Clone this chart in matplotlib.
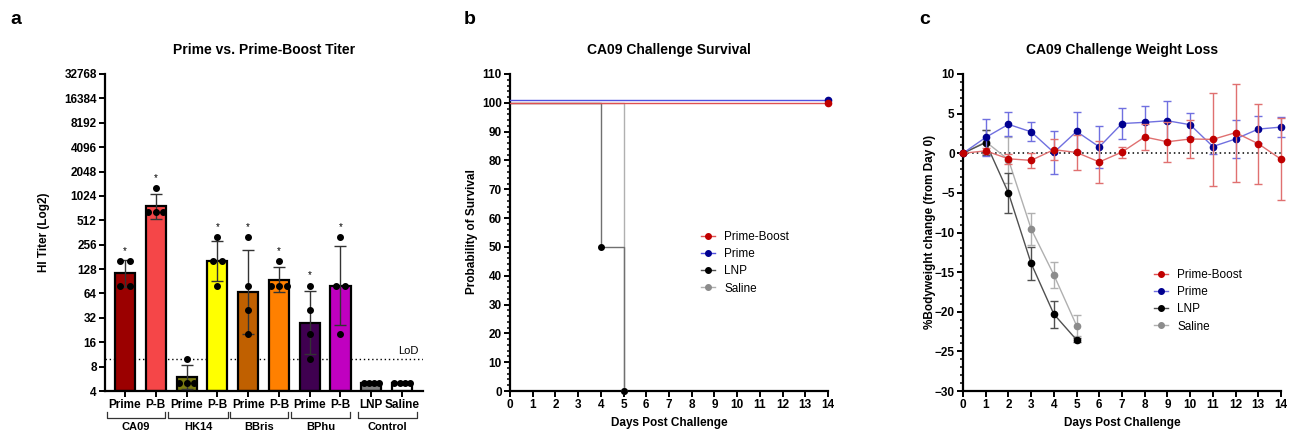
import numpy as np
import matplotlib
matplotlib.use('Agg')
import matplotlib.pyplot as plt
import matplotlib.ticker as mticker
from matplotlib.transforms import blended_transform_factory

plt.rcParams['font.family'] = ['Liberation Sans', 'DejaVu Sans']
plt.rcParams['font.size'] = 8.5

# ---------- panel a data ----------
bar_labels = ['Prime', 'P-B', 'Prime', 'P-B', 'Prime', 'P-B', 'Prime', 'P-B', 'LNP', 'Saline']
group_names = ['CA09', 'HK14', 'BBris', 'BPhu', 'Control']
titer_points = [[160, 160, 80, 80], [1280, 640, 640, 640], [10, 5, 5, 5], [320, 160, 160, 80],
                [320, 80, 40, 20], [160, 80, 80, 80], [80, 40, 20, 10], [320, 80, 80, 20],
                [5, 5, 5, 5], [5, 5, 5, 5]]
titer_gmean = [113, 761, 5.9, 160, 67, 95, 28, 80, 5, 5]
titer_lo = [76, 538, 4.2, 91, 20.5, 67, 11.5, 25.8, 5, 5]
titer_hi = [168, 1076, 8.4, 282, 220, 134, 69, 248, 5, 5]
signif = [True, True, False, True, True, True, True, True, False, False]
lod = 10

# ---------- panel b data ----------
pb_surv_days = [0, 14]
pb_surv = [100, 100]
pr_surv_days = [0, 14]
pr_surv = [100, 100]
lnp_surv_days = [0, 4, 5]
lnp_surv = [100, 50, 0]
sal_surv_days = [0, 5]
sal_surv = [100, 0]

# ---------- panel c data ----------
days = list(range(15))
pb_wt = [0, 0.3, -0.7, -0.9, 0.45, 0.1, -1.1, 0.15, 2.05, 1.45, 1.8, 1.75, 2.6, 1.2, -0.75]
pb_sd = [0, 0.3, 0.65, 0.95, 1.35, 2.25, 2.6, 0.7, 1.6, 2.5, 2.4, 5.9, 6.2, 5.05, 5.15]
pr_wt = [0, 2.0, 3.65, 2.7, 0.1, 2.75, 0.8, 3.75, 3.9, 4.1, 3.6, 0.85, 1.8, 3.05, 3.3]
pr_sd = [0, 2.3, 1.5, 1.2, 2.7, 2.5, 2.6, 2.0, 2.0, 2.5, 1.5, 0.9, 2.35, 1.7, 1.3]
lnp_days = [0, 1, 2, 3, 4, 5]
lnp_wt = [0, 1.35, -5.0, -13.9, -20.3, -23.55]
lnp_sd = [0, 1.6, 2.55, 2.1, 1.7, 0.3]
sal_days = [0, 1, 2, 3, 4, 5]
sal_wt = [0, 1.45, -0.8, -9.55, -15.35, -21.75]
sal_sd = [0, 1.5, 2.9, 2.0, 1.6, 1.3]

bar_colors = ['#9b0000', '#f54648', '#7a7a10', '#ffff00', '#c06000',
              '#ff8000', '#3f0050', '#c000c0', '#808080', '#ffffff']

W, H = 1296, 433
fig = plt.figure(figsize=(W / 100, H / 100), dpi=100)


def box(left, right, top, bottom):
    return [left / W, 1 - bottom / H, (right - left) / W, (bottom - top) / H]


def style_axes(ax):
    for s in ['top', 'right']:
        ax.spines[s].set_visible(False)
    for s in ['left', 'bottom']:
        ax.spines[s].set_linewidth(1.6)
    ax.tick_params(which='major', length=4, width=1.4, labelsize=8.5, pad=2)
    ax.tick_params(which='minor', length=2.5, width=1.1)
    for lab in ax.get_xticklabels() + ax.get_yticklabels():
        lab.set_fontweight('bold')


TITLE_SIZE = 10

# ================= panel a =================
axa = fig.add_axes(box(105, 423, 74, 391))
x = np.arange(len(bar_labels))
gm = np.array(titer_gmean)
axa.bar(x, gm - 4, bottom=4, width=0.65, color=bar_colors, edgecolor='black',
        linewidth=1.6, zorder=2)
err = [gm - np.array(titer_lo), np.array(titer_hi) - gm]
axa.errorbar(x[:8], gm[:8], yerr=[err[0][:8], err[1][:8]], fmt='none', ecolor='#333333',
             elinewidth=1, capsize=4, capthick=1, zorder=3)
for i, pts in enumerate(titer_points):
    vals, counts = np.unique(pts, return_counts=True)
    for v, n in zip(vals, counts):
        sp = min(0.3, 0.5 / max(n - 1, 1))
        offs = (np.arange(n) - (n - 1) / 2) * sp
        axa.plot(x[i] + offs, [v] * n, 'o', color='black', ms=4, zorder=4, clip_on=False)
    if signif[i]:
        axa.text(x[i], max(pts) * 2 ** 0.42, '*', ha='center', va='center', fontsize=7)
axa.axhline(lod, color='black', ls=(0, (1, 2)), lw=1, zorder=1)
axa.text(9.55, lod * 1.08, 'LoD', ha='right', va='bottom', fontsize=8)
axa.set_yscale('log', base=2)
axa.set_ylim(4, 32768)
axa.set_yticks([2 ** k for k in range(2, 16)])
axa.yaxis.set_major_formatter(mticker.FuncFormatter(lambda v, p: f'{int(round(v))}'))
axa.yaxis.set_minor_locator(mticker.NullLocator())
axa.set_xlim(-0.65, 9.68)
axa.set_xticks(x)
axa.set_xticklabels(bar_labels)
style_axes(axa)
axa.tick_params(axis='x', labelsize=8.5, pad=2)

trans = blended_transform_factory(axa.transData, axa.transAxes)
bracket_spans = [(-0.59, 1.3), (1.41, 3.33), (3.41, 5.3), (5.39, 7.3), (7.58, 9.48)]
for (x0, x1), name in zip(bracket_spans, group_names):
    axa.plot([x0, x0, x1, x1], [-0.065, -0.085, -0.085, -0.065], color='#333333', lw=0.9,
             transform=trans, clip_on=False)
    axa.text((x0 + x1) / 2, -0.098, name, ha='center', va='top', fontsize=8,
             fontweight='bold', transform=trans)

fig.text(44 / W, 1 - 232 / H, 'HI Titer (Log2)', rotation=90, ha='center', va='center',
         fontsize=8.5, fontweight='bold')
fig.text(264 / W, 1 - 50 / H, 'Prime vs. Prime-Boost Titer', ha='center', va='center',
         fontsize=TITLE_SIZE, fontweight='bold')
fig.text(16 / W, 1 - 20 / H, 'a', ha='center', va='center', fontsize=14, fontweight='bold')

# ================= panel b =================
axb = fig.add_axes(box(510, 828, 74, 391))
axb.step(sal_surv_days, sal_surv, where='post', color='#b0b0b0', lw=1, zorder=2)
axb.plot(sal_surv_days[1:], sal_surv[1:], 'o', color='#8c8c8c', ms=4, zorder=3, clip_on=False)
axb.step(lnp_surv_days, lnp_surv, where='post', color='#707070', lw=1, zorder=2)
axb.plot(lnp_surv_days[1:], lnp_surv[1:], 'o', color='black', ms=4, zorder=3, clip_on=False)
axb.plot(pb_surv_days, pb_surv, color='#e05050', lw=1, zorder=4)
axb.plot(pb_surv_days[1:], pb_surv[1:], 'o', color='#c00000', ms=4.5, zorder=6, clip_on=False)
nudge = 1
axb.plot(pr_surv_days, np.array(pr_surv) + nudge, color='#5050e0', lw=1, zorder=4)
axb.plot(pr_surv_days[1:], np.array(pr_surv[1:]) + nudge, 'o', color='#000090', ms=4.5,
         zorder=5, clip_on=False)
axb.set_xlim(0, 14)
axb.set_ylim(0, 110)
axb.set_xticks(range(15))
axb.set_yticks(range(0, 111, 10))
axb.yaxis.set_minor_locator(mticker.MultipleLocator(2))
style_axes(axb)
axb.set_xlabel('Days Post Challenge', fontsize=8.5, fontweight='bold', labelpad=4)
fig.text(472 / W, 1 - 232 / H, 'Probability of Survival', rotation=90, ha='center',
         va='center', fontsize=8.5, fontweight='bold')
fig.text(669 / W, 1 - 50 / H, 'CA09 Challenge Survival', ha='center', va='center',
         fontsize=TITLE_SIZE, fontweight='bold')
fig.text(470 / W, 1 - 20 / H, 'b', ha='center', va='center', fontsize=14, fontweight='bold')

leg_items = [('Prime-Boost', '#e05050', '#c00000'), ('Prime', '#5050e0', '#000090'),
             ('LNP', '#505050', 'black'), ('Saline', '#b0b0b0', '#8c8c8c')]
handles = [plt.Line2D([], [], color=lc, marker='o', mfc=mc, mec=mc, ms=4, lw=1)
           for _, lc, mc in leg_items]
axb.legend(handles, [n for n, _, _ in leg_items], loc='center left',
           bbox_to_anchor=(0.6, 0.405), frameon=False, fontsize=8.5, handlelength=1.2,
           handletextpad=0.8, labelspacing=0.45, borderpad=0, borderaxespad=0)

# ================= panel c =================
axc = fig.add_axes(box(963, 1281, 74, 391))
axc.plot([0, 14], [0, 0], color='black', ls=(0, (1, 2)), lw=1.1, zorder=1)
series = [(sal_days, sal_wt, sal_sd, '#b0b0b0', '#8c8c8c'),
          (lnp_days, lnp_wt, lnp_sd, '#505050', 'black'),
          (days, pr_wt, pr_sd, '#7070e0', '#000090'),
          (days, pb_wt, pb_sd, '#e07070', '#c00000')]
for k, (d, w, s, lc, mc) in enumerate(series):
    axc.errorbar(d, w, yerr=s, color=lc, lw=1, elinewidth=1, capsize=3, capthick=1,
                 marker='o', ms=4.5, mfc=mc, mec=mc, zorder=2 + k, clip_on=False)
axc.set_xlim(0, 14)
axc.set_ylim(-30, 10)
axc.set_xticks(range(15))
axc.set_yticks(range(-30, 11, 5))
axc.yaxis.set_minor_locator(mticker.MultipleLocator(1))
style_axes(axc)
axc.set_xlabel('Days Post Challenge', fontsize=8.5, fontweight='bold', labelpad=4)
fig.text(930 / W, 1 - 232 / H, '%Bodyweight change (from Day 0)', rotation=90, ha='center',
         va='center', fontsize=8.5, fontweight='bold')
fig.text(1122 / W, 1 - 50 / H, 'CA09 Challenge Weight Loss', ha='center', va='center',
         fontsize=TITLE_SIZE, fontweight='bold')
fig.text(925 / W, 1 - 20 / H, 'c', ha='center', va='center', fontsize=14, fontweight='bold')

handles_c = [plt.Line2D([], [], color=lc, marker='o', mfc=mc, mec=mc, ms=4, lw=1)
             for _, lc, mc in [leg_items[0], (0, '#7070e0', '#000090'), leg_items[2], leg_items[3]]]
axc.legend(handles_c, [n for n, _, _ in leg_items], loc='center left',
           bbox_to_anchor=(0.6, 0.285), frameon=False, fontsize=8.5, handlelength=1.2,
           handletextpad=0.8, labelspacing=0.45, borderpad=0, borderaxespad=0)

fig.savefig('out.png', dpi=100)
